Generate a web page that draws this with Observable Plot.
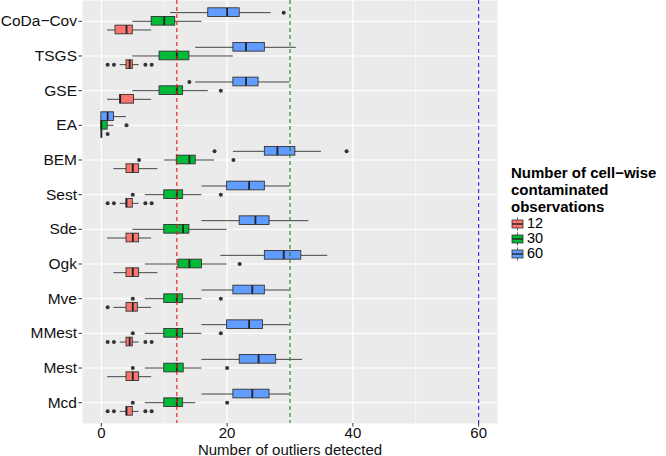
<!DOCTYPE html>
<html>
<head>
<meta charset="utf-8">
<script src="https://cdn.jsdelivr.net/npm/d3@7"></script>
<script src="https://cdn.jsdelivr.net/npm/@observablehq/plot@0.6"></script>
<style>
  body { margin: 0; background: white; }
  #wrap { position: relative; width: 666px; height: 456px; font-family: "Liberation Sans", Arial, Helvetica, sans-serif; }
  #legend { position: absolute; left: 511px; top: 164px; color: #000; }
  #legend .title { font-weight: bold; font-size: 15px; line-height: 17px; margin-bottom: 1px; }
  #legend .item { display: flex; align-items: center; height: 15px; font-size: 14.5px; line-height: 15px; }
  #legend .item svg { margin-right: 3px; }
</style>
</head>
<body>
<div id="wrap"><div id="chart"></div><div id="legend"></div></div>
<script>
// Methods, top to bottom
const methods = ["CoDa−Cov","TSGS","GSE","EA","BEM","Sest","Sde","Ogk","Mve","MMest","Mest","Mcd"];
const groups = ["12","30","60"];
const groupColors = ["#F8766D","#00BA38","#619CFF"];
const xTicks = [0,20,40,60];
const refLines = [12,30,60];
const refColors = ["#e8191b","#1e7d1e","#2424d9"];

// box stats per method: [lower whisker, Q1, median, Q3, upper whisker]
const stats12 = [
  [1,2.25,4,5,8],[3,4,4.5,5,6],[1,3,3,5.2,8],[0,0,0,0,0],[2,4,5,6,9],[3,4,4,5,6],
  [1,4,5,6,8],[2,4,5,6,9],[2,4,5,5.8,8],[3,4,4.5,5,6],[1,4,5,6,8],[3,4,4,5,6]
];
const stats30 = [
  [5,8,10,11.75,16],[5,9.25,12,14,21],[5,9.25,12,13,17],[0,0,0,1,2],[10,12,14,15,18],[7,10,12,13,16],
  [5,10,13,14,20],[7,12.25,14,16,20],[7,10,12,13,16],[7,10,12,13,16],[7,10,12,13.1,16],[7,10,12,13,15]
];
const stats60 = [
  [11,17,20,22,27],[15,21,23,26,31],[15,21,23,25,30],[0,0,1,2,4],[21,26,28,30.85,35],[16,20,23.5,26,30],
  [16,22,24.5,26.75,33],[19,26,29,31.8,36],[16,21,24,26,30],[16,20,23.5,25.7,30],[16,22,25,27.8,32],[16,21,24,26.75,30]
];
// outliers per method
const out12 = [[],[1,2,7,8],[],[1],[],[1,2,7,8],[],[],[1],[1,2,7,8],[],[1,2,7,8]];
const out30 = [[],[],[19],[4],[6,21],[5,19],[],[22],[5,19],[5,19],[5,20],[5,20]];
const out60 = [[29],[],[14],[],[18,39],[],[],[],[],[],[],[]];

const allStats = [stats12, stats30, stats60];
const allOut = [out12, out30, out60];
const offsets = [-0.25, 0, 0.25];
const n = methods.length;

const rows = [];
const outRows = [];
methods.forEach((m, i) => {
  groups.forEach((g, j) => {
    const s = allStats[j][i];
    const pos = (n - 1 - i) + offsets[j];
    rows.push({method: m, group: g, pos, wlo: s[0], q1: s[1], med: s[2], q3: s[3], whi: s[4]});
    allOut[j][i].forEach(v => outRows.push({method: m, group: g, pos, value: v}));
  });
});

const hw = 0.125;
const chart = Plot.plot({
  width: 666,
  height: 456,
  marginLeft: 82,
  marginRight: 169,
  marginTop: 0,
  marginBottom: 33,
  style: {fontFamily: "'Liberation Sans', Arial, Helvetica, sans-serif", fontSize: "16px", background: "white", color: "#111"},
  x: {domain: [-3, 63]},
  y: {domain: [-0.6, n - 1 + 0.6]},
  color: {domain: groups, range: groupColors},
  marks: [
    Plot.frame({fill: "#EBEBEB", stroke: "none"}),
    Plot.ruleX([10,30,50], {stroke: "white", strokeWidth: 0.6}),
    Plot.ruleX(xTicks, {stroke: "white", strokeWidth: 1.2}),
    Plot.ruleY(d3.range(n), {stroke: "white", strokeWidth: 1.2}),
    Plot.ruleY(rows, {y: "pos", x1: "wlo", x2: "whi", stroke: "#444", strokeWidth: 1}),
    Plot.rect(rows, {x1: "q1", x2: "q3", y1: d => d.pos - hw, y2: d => d.pos + hw, fill: "group", stroke: "#333", strokeWidth: 0.9}),
    Plot.ruleX(rows, {x: "med", y1: d => d.pos - hw, y2: d => d.pos + hw, stroke: "#222", strokeWidth: 1.8}),
    Plot.dot(outRows, {x: "value", y: "pos", r: 2, fill: "#333", stroke: "none"}),
    Plot.ruleX(refLines, {x: d => d, stroke: (d, i) => refColors[i], strokeWidth: 1.1, strokeDasharray: "4,3"}),
    Plot.axisX({ticks: xTicks, tickSize: 3.5, tickPadding: 0.5, stroke: "#333", fontSize: 15, label: null}),
    Plot.axisX({ticks: [], tickSize: 0, fontSize: 15, label: "Number of outliers detected", labelAnchor: "center", labelOffset: 31, labelArrow: "none"}),
    Plot.axisY({ticks: d3.range(n), tickFormat: d => methods[n - 1 - d], tickSize: 3.5, tickPadding: 2, stroke: "#333", fontSize: 15.5, label: null})
  ]
});
document.getElementById("chart").appendChild(chart);

// Legend
const legend = document.getElementById("legend");
legend.innerHTML = '<div class="title">Number of cell−wise<br>contaminated<br>observations</div>';
groups.forEach((g, j) => {
  const item = document.createElement("div");
  item.className = "item";
  item.innerHTML = `<svg width="13" height="14"><line x1="6.5" x2="6.5" y1="0.5" y2="13.5" stroke="#333" stroke-width="0.8"/><rect x="1" y="3" width="11" height="8" fill="${groupColors[j]}" stroke="#333" stroke-width="0.8"/><line x1="1" x2="12" y1="7" y2="7" stroke="#222" stroke-width="1.4"/></svg><span>${g}</span>`;
  legend.appendChild(item);
});
</script>
</body>
</html>
